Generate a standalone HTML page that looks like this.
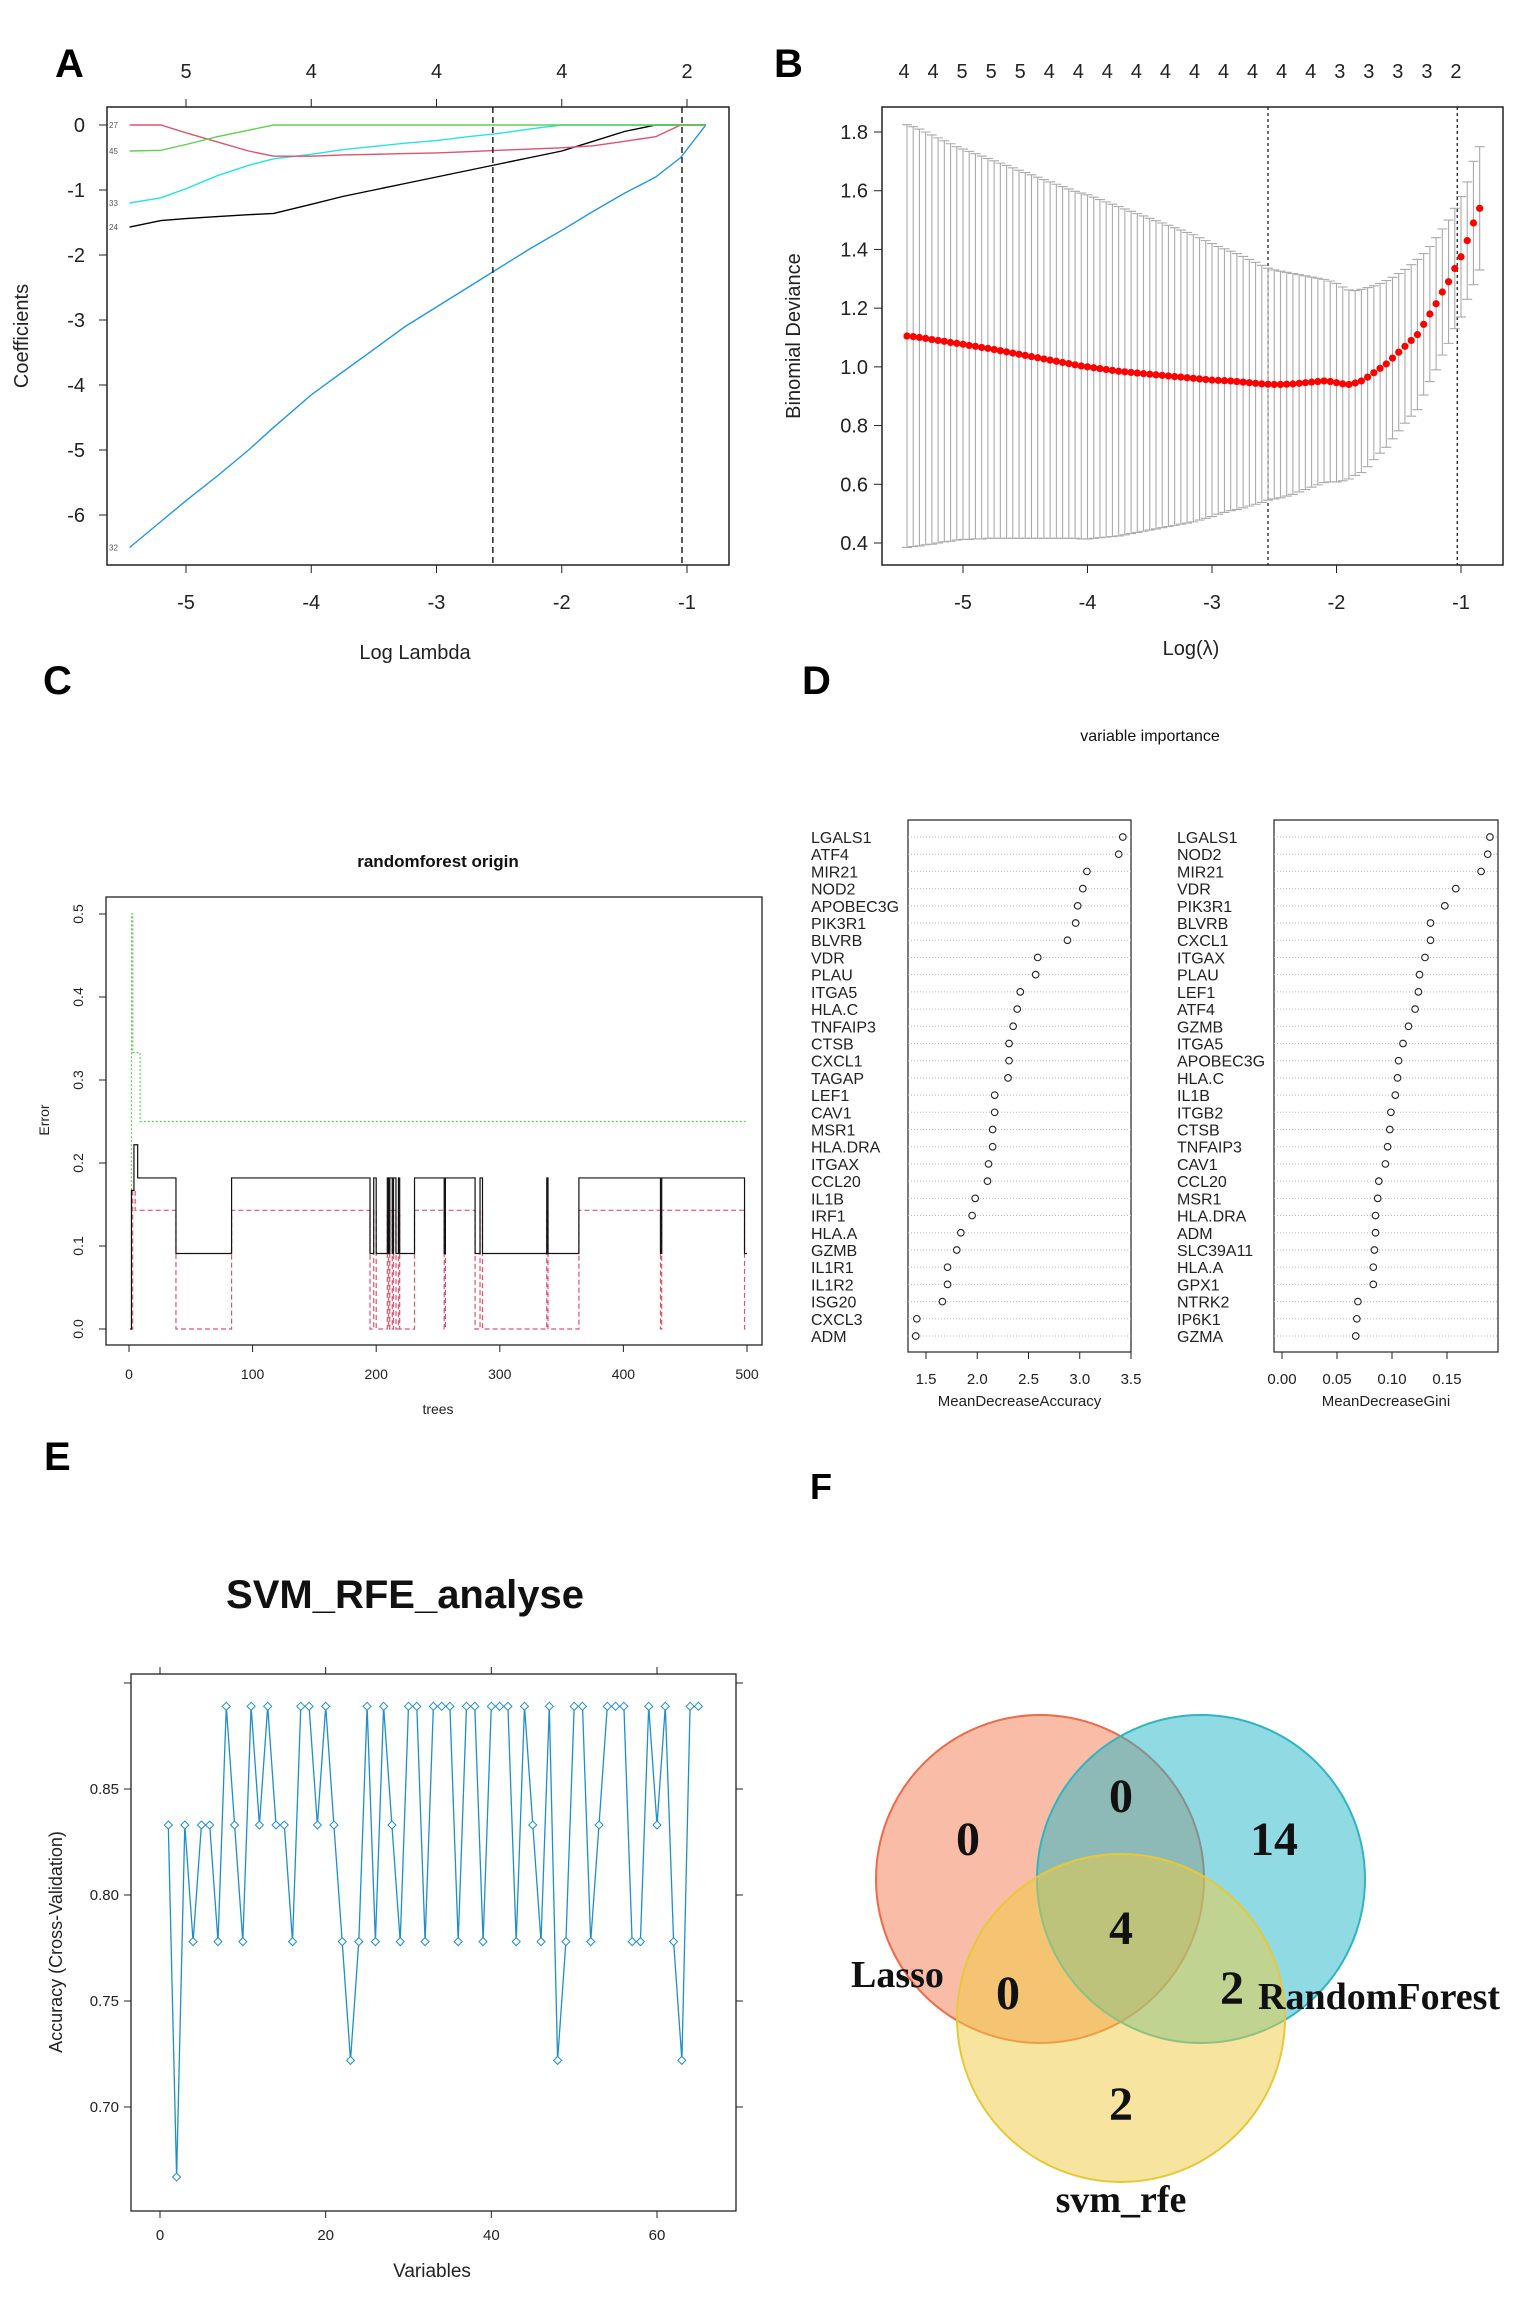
<!DOCTYPE html>
<html><head><meta charset="utf-8"><style>
html,body{margin:0;padding:0;background:#fff;}
svg{display:block;font-family:"Liberation Sans",sans-serif;}
</style></head><body>
<svg id="fig" width="1535" height="2313" viewBox="0 0 1535 2313" xmlns="http://www.w3.org/2000/svg">
<g font-weight="bold" font-size="40">
<text x="55" y="77">A</text>
<text x="774" y="77">B</text>
<text x="43" y="694">C</text>
<text x="802" y="694">D</text>
<text x="44" y="1470">E</text>
<text x="810" y="1499" font-size="36">F</text>
</g>
<g id="pA"></g>
<g id="pB"></g>
<g id="pC"></g>
<g id="pD"></g>
<g id="pE"></g>
<g id="pF"></g>
</svg>
<script>
// ---------- Panel A data ----------
const aLogLambda = [-5.45,-5.2,-5.0,-4.75,-4.5,-4.3,-4.0,-3.75,-3.5,-3.25,-3.0,-2.75,-2.5,-2.25,-2.0,-1.75,-1.5,-1.25,-1.05,-0.85];
const aCoef32 = [-6.5,-6.1,-5.78,-5.4,-5.0,-4.65,-4.15,-3.8,-3.45,-3.1,-2.8,-2.5,-2.2,-1.9,-1.62,-1.33,-1.05,-0.8,-0.5,0];
const aCoef24 = [-1.57,-1.47,-1.44,-1.41,-1.38,-1.36,-1.22,-1.1,-1.0,-0.9,-0.8,-0.7,-0.6,-0.5,-0.4,-0.25,-0.1,0,0,0];
const aCoef33 = [-1.2,-1.12,-0.98,-0.78,-0.62,-0.52,-0.45,-0.38,-0.33,-0.28,-0.24,-0.18,-0.13,-0.06,0,0,0,0,0,0];
const aCoef27 = [0,0,-0.12,-0.26,-0.4,-0.48,-0.48,-0.46,-0.45,-0.44,-0.43,-0.41,-0.39,-0.37,-0.35,-0.32,-0.25,-0.18,0,0];
const aCoef45 = [-0.4,-0.39,-0.3,-0.18,-0.08,0,0,0,0,0,0,0,0,0,0,0,0,0,0,0];
const aSeriesNames = ["32","24","33","27","45"];
const aXTicks = [-5,-4,-3,-2,-1];
const aYTicks = [0,-1,-2,-3,-4,-5,-6];
const aTopTicks = [-5,-4,-3,-2,-1];
const aTopLabels = ["5","4","4","4","2"];
const aVLines = [-2.55,-1.04];

// ---------- Panel B data ----------
const bStart = -5.45, bStep = 0.05;
const bMean = [1.105,1.103,1.100,1.097,1.093,1.090,1.087,1.083,1.080,1.077,
1.073,1.070,1.066,1.063,1.059,1.055,1.051,1.047,1.043,1.039,
1.035,1.031,1.027,1.023,1.019,1.015,1.011,1.007,1.003,1.000,
0.997,0.994,0.991,0.988,0.985,0.983,0.981,0.979,0.977,0.975,
0.973,0.971,0.969,0.967,0.965,0.963,0.961,0.959,0.957,0.955,
0.954,0.953,0.952,0.950,0.948,0.946,0.944,0.942,0.941,0.940,
0.940,0.941,0.942,0.944,0.946,0.948,0.950,0.952,0.950,0.946,
0.942,0.940,0.945,0.952,0.965,0.980,0.995,1.010,1.030,1.050,
1.070,1.090,1.110,1.145,1.180,1.215,1.255,1.290,1.335,1.375,
1.430,1.490,1.540];
const bUpper = [1.825,1.818,1.810,1.800,1.790,1.780,1.770,1.760,1.750,1.742,
1.734,1.726,1.718,1.710,1.702,1.694,1.686,1.678,1.670,1.662,
1.654,1.646,1.638,1.630,1.622,1.614,1.606,1.598,1.592,1.586,
1.578,1.570,1.562,1.554,1.546,1.538,1.530,1.522,1.514,1.506,
1.498,1.490,1.482,1.474,1.466,1.458,1.450,1.440,1.430,1.420,
1.410,1.402,1.394,1.386,1.376,1.366,1.356,1.346,1.336,1.330,
1.326,1.322,1.318,1.314,1.310,1.306,1.302,1.298,1.292,1.284,
1.272,1.262,1.260,1.264,1.270,1.276,1.284,1.294,1.305,1.318,
1.332,1.348,1.366,1.386,1.410,1.440,1.470,1.500,1.540,1.580,
1.630,1.700,1.750];
const bXTicks = [-5,-4,-3,-2,-1];
const bYTicks = [0.4,0.6,0.8,1.0,1.2,1.4,1.6,1.8];
const bTopLabels = ["4","4","5","5","5","4","4","4","4","4","4","4","4","4","4","3","3","3","3","2"];
const bVLines = [-2.55,-1.03];

// ---------- Panel C data ----------
const cOobStart = [1,2,4,7,38,83,195,198,200,209,210,211,213,214,216,218,219,231,255,256,280,284,286,338,339,364,430,431,498,500];
const cOobVal   = [0,0.167,0.222,0.182,0.091,0.182,0.091,0.182,0.091,0.182,0.091,0.182,0.091,0.182,0.091,0.182,0.091,0.182,0.091,0.182,0.091,0.182,0.091,0.182,0.091,0.182,0.091,0.182,0.091,0.091];
const cClsStart = [1,3,5,38,83,195,198,200,209,210,211,213,214,216,218,219,231,255,256,280,284,286,338,339,364,430,431,498,500];
const cClsVal   = [0,0.167,0.143,0,0.143,0,0.143,0,0.143,0,0.143,0,0.143,0,0.143,0,0.143,0,0.143,0,0.143,0,0.143,0,0.143,0,0.143,0,0];
const cGrnStart = [1,2,3,9,500];
const cGrnVal   = [0,0.5,0.333,0.25,0.25];
const cXTicks = [0,100,200,300,400,500];
const cYTicks = [0,0.1,0.2,0.3,0.4,0.5];

// ---------- Panel D data ----------
const dAccNames = ["LGALS1","ATF4","MIR21","NOD2","APOBEC3G","PIK3R1","BLVRB","VDR","PLAU","ITGA5","HLA.C","TNFAIP3","CTSB","CXCL1","TAGAP","LEF1","CAV1","MSR1","HLA.DRA","ITGAX","CCL20","IL1B","IRF1","HLA.A","GZMB","IL1R1","IL1R2","ISG20","CXCL3","ADM"];
const dAccVals = [3.42,3.38,3.07,3.03,2.98,2.96,2.88,2.59,2.57,2.42,2.39,2.35,2.31,2.31,2.30,2.17,2.17,2.15,2.15,2.11,2.10,1.98,1.95,1.84,1.80,1.71,1.71,1.66,1.41,1.40];
const dGiniNames = ["LGALS1","NOD2","MIR21","VDR","PIK3R1","BLVRB","CXCL1","ITGAX","PLAU","LEF1","ATF4","GZMB","ITGA5","APOBEC3G","HLA.C","IL1B","ITGB2","CTSB","TNFAIP3","CAV1","CCL20","MSR1","HLA.DRA","ADM","SLC39A11","HLA.A","GPX1","NTRK2","IP6K1","GZMA"];
const dGiniVals = [0.189,0.187,0.181,0.158,0.148,0.135,0.135,0.130,0.125,0.124,0.121,0.115,0.110,0.106,0.105,0.103,0.099,0.098,0.096,0.094,0.088,0.087,0.085,0.085,0.084,0.083,0.083,0.069,0.068,0.067];
const dAccTicks = [1.5,2.0,2.5,3.0,3.5];
const dAccTickLabels = ["1.5","2.0","2.5","3.0","3.5"];
const dGiniTicks = [0,0.05,0.10,0.15];
const dGiniTickLabels = ["0.00","0.05","0.10","0.15"];

// ---------- Panel E data ----------
const eVars = [1,2,3,4,5,6,7,8,9,10,11,12,13,14,15,16,17,18,19,20,21,22,23,24,25,26,27,28,29,30,31,32,33,34,35,36,37,38,39,40,41,42,43,44,45,46,47,48,49,50,51,52,53,54,55,56,57,58,59,60,61,62,63,64,65];
const eAcc = [0.833,0.667,0.833,0.778,0.833,0.833,0.778,0.889,0.833,0.778,0.889,0.833,0.889,0.833,0.833,0.778,0.889,0.889,0.833,0.889,0.833,0.778,0.722,0.778,0.889,0.778,0.889,0.833,0.778,0.889,0.889,0.778,0.889,0.889,0.889,0.778,0.889,0.889,0.778,0.889,0.889,0.889,0.778,0.889,0.833,0.778,0.889,0.722,0.778,0.889,0.889,0.778,0.833,0.889,0.889,0.889,0.778,0.778,0.889,0.833,0.889,0.778,0.722,0.889,0.889];
const eXTicks = [0,20,40,60];
const eYTicks = [0.70,0.75,0.80,0.85];
const eYTickLabels = ["0.70","0.75","0.80","0.85"];

// ---------- Panel F data ----------
const fSetNames = ["Lasso","RandomForest","svm_rfe"];
const fCounts = ["0","0","14","4","0","2","2"];
const fRegions = ["lasso-only","lasso-rf","rf-only","all-three","lasso-svm","rf-svm","svm-only"];

// ---------- helpers ----------
const NS = "http://www.w3.org/2000/svg";
function mk(parent, tag, attrs, text){
  const e = document.createElementNS(NS, tag);
  for (const k in attrs) e.setAttribute(k, attrs[k]);
  if (text !== undefined) e.textContent = text;
  parent.appendChild(e);
  return e;
}
function lin(d0,d1,r0,r1){ return v => r0 + (v-d0)*(r1-r0)/(d1-d0); }

// ================= Panel A =================
(function(){
  const g = document.getElementById('pA');
  const X = lin(-5,-1,186,687), Y = lin(0,-6,125,515);
  const L=107,R=729,T=107,B=565;
  let el = mk(g,'rect',{x:L,y:T,width:R-L,height:B-T,fill:'none',stroke:'#222','stroke-width':1.5});
   
  aXTicks.forEach(v=>{
    mk(g,'line',{x1:X(v),x2:X(v),y1:B,y2:B+8,stroke:'#222'});
    el = mk(g,'text',{x:X(v),y:609,'text-anchor':'middle','font-size':20,fill:'#222'},String(v));
     
  });
  aYTicks.forEach(v=>{
    mk(g,'line',{x1:L,x2:L-8,y1:Y(v),y2:Y(v),stroke:'#222'});
    el = mk(g,'text',{x:L-22,y:Y(v)+7,'text-anchor':'end','font-size':20,fill:'#222'},String(v));
     
  });
  aTopTicks.forEach((v,i)=>{
    mk(g,'line',{x1:X(v),x2:X(v),y1:T,y2:T-8,stroke:'#222'});
    el = mk(g,'text',{x:X(v),y:78,'text-anchor':'middle','font-size':20,fill:'#222'},aTopLabels[i]);
     
  });
  el = mk(g,'text',{x:415,y:659,'text-anchor':'middle','font-size':20,fill:'#222'},'Log Lambda');
   
  el = mk(g,'text',{x:28,y:336,'text-anchor':'middle','font-size':20,fill:'#222',transform:'rotate(-90 28 336)'},'Coefficients');
   
  const series = [aCoef32,aCoef24,aCoef33,aCoef27,aCoef45];
  const cols = ['#2297E6','#000000','#28E2E5','#DF536B','#61D04F'];
  series.forEach((s,k)=>{
    const pts = s.map((v,i)=>X(aLogLambda[i]).toFixed(1)+','+Y(v).toFixed(1)).join(' ');
    el = mk(g,'polyline',{points:pts,fill:'none',stroke:cols[k],'stroke-width':1.4});
     
    el = mk(g,'text',{x:L+2,y:Y(s[0])+3,'font-size':8,fill:'#555'},aSeriesNames[k]);
     
  });
  aVLines.forEach(v=>{
    el = mk(g,'line',{x1:X(v),x2:X(v),y1:T,y2:B,stroke:'#222','stroke-width':1.5,'stroke-dasharray':'6,4'});
     
  });
})();

// ================= Panel B =================
(function(){
  const g = document.getElementById('pB');
  const X = lin(-5,-1,963,1461), Y = lin(1.8,0.4,132,543);
  const L=882,R=1503,T=107,B=565;
  let el = mk(g,'rect',{x:L,y:T,width:R-L,height:B-T,fill:'none',stroke:'#222','stroke-width':1.5});
   
  bXTicks.forEach(v=>{
    mk(g,'line',{x1:X(v),x2:X(v),y1:B,y2:B+8,stroke:'#222'});
    el = mk(g,'text',{x:X(v),y:609,'text-anchor':'middle','font-size':20,fill:'#222'},String(v));
     
  });
  bYTicks.forEach(v=>{
    mk(g,'line',{x1:L,x2:L-8,y1:Y(v),y2:Y(v),stroke:'#222'});
    el = mk(g,'text',{x:L-14,y:Y(v)+7,'text-anchor':'end','font-size':20,fill:'#222'},v.toFixed(1));
     
  });
  bTopLabels.forEach((t,i)=>{
    el = mk(g,'text',{x:904+i*29.05,y:78,'text-anchor':'middle','font-size':20,fill:'#222'},t);
     
  });
  el = mk(g,'text',{x:1191,y:655,'text-anchor':'middle','font-size':20,fill:'#222'},'Log(\u03bb)');
   
  el = mk(g,'text',{x:800,y:336,'text-anchor':'middle','font-size':20,fill:'#222',transform:'rotate(-90 800 336)'},'Binomial Deviance');
   
  bVLines.forEach(v=>{
    el = mk(g,'line',{x1:X(v),x2:X(v),y1:T,y2:B,stroke:'#222','stroke-width':1.3,'stroke-dasharray':'3,3'});
     
  });
  bMean.forEach((m,i)=>{
    const x = X(bStart+i*bStep), up = bUpper[i], lo = 2*m-up;
    el = mk(g,'path',{d:`M${x},${Y(up)}V${Y(lo)}M${x-5},${Y(up)}H${x+5}M${x-5},${Y(lo)}H${x+5}`,stroke:'#aaa','stroke-width':1.1,fill:'none'});
     
  });
  bMean.forEach((m,i)=>{
    el = mk(g,'circle',{cx:X(bStart+i*bStep),cy:Y(m),r:3.6,fill:'#f00'});
     
  });
})();

// ================= Panel C =================
(function(){
  const g = document.getElementById('pC');
  const X = lin(0,500,129,747), Y = lin(0,0.5,1329,914);
  const L=106,R=762,T=897,B=1345;
  let el = mk(g,'rect',{x:L,y:T,width:R-L,height:B-T,fill:'none',stroke:'#222','stroke-width':1.3});
   
  el = mk(g,'text',{x:438,y:867,'text-anchor':'middle','font-size':17,'font-weight':'bold',fill:'#111'},'randomforest origin');
   
  cXTicks.forEach(v=>{
    mk(g,'line',{x1:X(v),x2:X(v),y1:B,y2:B+7,stroke:'#222'});
    el = mk(g,'text',{x:X(v),y:1379,'text-anchor':'middle','font-size':14,fill:'#222'},String(v));
     
  });
  cYTicks.forEach(v=>{
    mk(g,'line',{x1:L,x2:L-7,y1:Y(v),y2:Y(v),stroke:'#222'});
    el = mk(g,'text',{x:83,y:Y(v),'text-anchor':'middle','font-size':14,fill:'#222',transform:`rotate(-90 83 ${Y(v)})`},v.toFixed(1));
     
  });
  el = mk(g,'text',{x:438,y:1414,'text-anchor':'middle','font-size':14,fill:'#222'},'trees');
   
  el = mk(g,'text',{x:49,y:1120,'text-anchor':'middle','font-size':14,fill:'#222',transform:'rotate(-90 49 1120)'},'Error');
   
  function step(starts, vals){
    let d = `M${X(starts[0])},${Y(vals[0])}`;
    for (let i=1;i<starts.length;i++){ d += `H${X(starts[i])}V${Y(vals[i])}`; }
    return d;
  }
  el = mk(g,'path',{d:step(cGrnStart,cGrnVal),fill:'none',stroke:'#61D04F','stroke-width':1.2,'stroke-dasharray':'2,2'});
   
  el = mk(g,'path',{d:step(cClsStart,cClsVal),fill:'none',stroke:'#DF536B','stroke-width':1.2,'stroke-dasharray':'5,3'});
   
  el = mk(g,'path',{d:step(cOobStart,cOobVal),fill:'none',stroke:'#111','stroke-width':1.2});
   
})();

// ================= Panel D =================
(function(){
  const g = document.getElementById('pD');
  let el = mk(g,'text',{x:1150,y:741,'text-anchor':'middle','font-size':16,fill:'#111'},'variable importance');
   
  const T=820,B=1352, r0=837, dr=(1336-837)/29;
  function dot(L,R,X,names,vals,ticks,tickLabels,labelX,title,key){
    let e = mk(g,'rect',{x:L,y:T,width:R-L,height:B-T,fill:'none',stroke:'#222','stroke-width':1.2});
     
    names.forEach((n,i)=>{
      const y = r0+i*dr;
      mk(g,'line',{x1:L,x2:R,y1:y,y2:y,stroke:'#bbb','stroke-width':1,'stroke-dasharray':'1,2'});
      e = mk(g,'text',{x:labelX,y:y+6,'font-size':16,fill:'#222'},n);
       
      e = mk(g,'circle',{cx:X(vals[i]),cy:y,r:3.3,fill:'#fff',stroke:'#222','stroke-width':1.1});
       
    });
    ticks.forEach((v,i)=>{
      mk(g,'line',{x1:X(v),x2:X(v),y1:B,y2:B+7,stroke:'#222'});
      e = mk(g,'text',{x:X(v),y:1384,'text-anchor':'middle','font-size':15,fill:'#222'},tickLabels[i]);
       
    });
    e = mk(g,'text',{x:(L+R)/2,y:1406,'text-anchor':'middle','font-size':15,fill:'#222'},title);
     
  }
  dot(908,1131,lin(1.5,3.5,926,1131),dAccNames,dAccVals,dAccTicks,dAccTickLabels,811,'MeanDecreaseAccuracy','accuracy');
  dot(1274,1498,lin(0,0.15,1282,1447),dGiniNames,dGiniVals,dGiniTicks,dGiniTickLabels,1177,'MeanDecreaseGini','gini');
})();

// ================= Panel E =================
(function(){
  const g = document.getElementById('pE');
  const X = lin(0,60,160,657), Y = lin(0.85,0.70,1789,2107);
  const L=131,R=736,T=1674,B=2211;
  let el = mk(g,'text',{x:405,y:1608,'text-anchor':'middle','font-size':40,'font-weight':'bold',fill:'#111'},'SVM_RFE_analyse');
   
  el = mk(g,'rect',{x:L,y:T,width:R-L,height:B-T,fill:'none',stroke:'#222','stroke-width':1.3});
   
  eXTicks.forEach(v=>{
    mk(g,'line',{x1:X(v),x2:X(v),y1:B,y2:B+7,stroke:'#222'});
    mk(g,'line',{x1:X(v),x2:X(v),y1:T,y2:T-7,stroke:'#222'});
    el = mk(g,'text',{x:X(v),y:2240,'text-anchor':'middle','font-size':15,fill:'#222'},String(v));
     
  });
  eYTicks.forEach((v,i)=>{
    mk(g,'line',{x1:L,x2:L-7,y1:Y(v),y2:Y(v),stroke:'#222'});
    mk(g,'line',{x1:R,x2:R+7,y1:Y(v),y2:Y(v),stroke:'#222'});
    el = mk(g,'text',{x:L-12,y:Y(v)+5,'text-anchor':'end','font-size':15,fill:'#222'},eYTickLabels[i]);
     
  });
  mk(g,'line',{x1:L,x2:L-7,y1:Y(0.9),y2:Y(0.9),stroke:'#222'});
  mk(g,'line',{x1:R,x2:R+7,y1:Y(0.9),y2:Y(0.9),stroke:'#222'});
  el = mk(g,'text',{x:432,y:2277,'text-anchor':'middle','font-size':19,fill:'#222'},'Variables');
   
  el = mk(g,'text',{x:62,y:1942,'text-anchor':'middle','font-size':18,fill:'#222',transform:'rotate(-90 62 1942)'},'Accuracy (Cross-Validation)');
   
  const pts = eAcc.map((v,i)=>X(eVars[i]).toFixed(1)+','+Y(v).toFixed(1)).join(' ');
  el = mk(g,'polyline',{points:pts,fill:'none',stroke:'#1f8fc8','stroke-width':1.3});
   
  eAcc.forEach((v,i)=>{
    const x=X(eVars[i]), y=Y(v);
    el = mk(g,'path',{d:`M${x},${y-4}L${x+4},${y}L${x},${y+4}L${x-4},${y}Z`,fill:'#fff',stroke:'#1f8fc8','stroke-width':1});
     
  });
})();

// ================= Panel F =================
(function(){
  const g = document.getElementById('pF');
  const circles = [
    {cx:1040,cy:1879,rx:164,ry:164,fill:'#f47a50',stroke:'#ee6a48'},
    {cx:1201,cy:1879,rx:164,ry:164,fill:'#22b8c8',stroke:'#2fb5c2'},
    {cx:1121,cy:2018,rx:164,ry:164,fill:'#f0cc40',stroke:'#e6c83a'}
  ];
  circles.forEach((c,i)=>{
    const el = mk(g,'ellipse',{cx:c.cx,cy:c.cy,rx:c.rx,ry:c.ry,fill:c.fill,'fill-opacity':0.5,stroke:c.stroke,'stroke-width':2});
    
    
  });
  const pos = [[968,1855],[1121,1812],[1274,1855],[1121,1944],[1008,2009],[1232,2004],[1121,2120]];
  fCounts.forEach((t,i)=>{
    const el = mk(g,'text',{x:pos[i][0],y:pos[i][1],'text-anchor':'middle','font-size':48,'font-weight':'bold','font-family':'"Liberation Serif",serif',fill:'#111'},t);
    
    
  });
  const lp = [[851,1987,'start'],[1258,2009,'start'],[1121,2212,'middle']];
  fSetNames.forEach((n,i)=>{
    const el = mk(g,'text',{x:lp[i][0],y:lp[i][1],'text-anchor':lp[i][2],'font-size':38,'font-weight':'bold','font-family':'"Liberation Serif",serif',fill:'#111'},n);
    
    
  });
})();
</script>
</body></html>
